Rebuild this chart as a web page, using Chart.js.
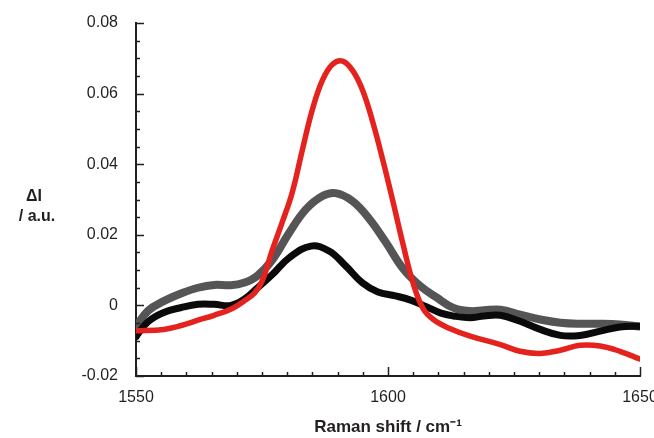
<!DOCTYPE html>
<html>
<head>
<meta charset="utf-8">
<script src="https://cdn.jsdelivr.net/npm/chart.js@4.4.1/dist/chart.umd.min.js"></script>
<style>
html,body{margin:0;padding:0;background:#fff;}
#wrap{width:654px;height:438px;position:relative;}
</style>
</head>
<body>
<div id="wrap"><canvas id="c" width="654" height="438"></canvas></div>
<script>
// Raman shift (cm-1) sample positions and ΔI values for each trace
const redShift = [1550,1555.5,1559,1562.3,1565.5,1568.8,1571.4,1573.5,1575,1577,1579,1581,1583,1585,1587,1589,1591,1593,1595,1597,1599,1601,1603,1605,1607,1609,1612,1616.3,1622.3,1626.2,1630.2,1634.2,1638.1,1642.1,1646,1650];
const redValues = [-0.0072,-0.0068,-0.0057,-0.0042,-0.0028,-0.0011,0.0012,0.0035,0.0068,0.0155,0.0235,0.032,0.044,0.0555,0.0638,0.0683,0.0692,0.0665,0.0608,0.0518,0.041,0.0293,0.0172,0.0062,-0.001,-0.004,-0.0064,-0.0087,-0.0111,-0.013,-0.0136,-0.0127,-0.0113,-0.0115,-0.013,-0.0152];

const grayShift = [1550,1552.4,1555.5,1559,1562.3,1565.5,1568.8,1571.4,1574,1577.1,1580.4,1583.7,1587,1589.6,1592.9,1596.3,1599.5,1603.1,1606.4,1609.7,1613,1616.3,1619,1622.3,1626.2,1630.2,1634.2,1638.1,1642.1,1646,1650];
const grayValues = [-0.006,-0.0015,0.0012,0.0034,0.005,0.0058,0.0057,0.0064,0.0083,0.013,0.0206,0.0272,0.031,0.0318,0.0296,0.0245,0.018,0.0102,0.0055,0.0022,-0.0007,-0.0016,-0.0014,-0.0012,-0.0026,-0.004,-0.0049,-0.0052,-0.0052,-0.0054,-0.006];

const blackShift = [1550,1552.4,1555.5,1559,1562.3,1565.5,1568.8,1571.4,1574,1577.1,1580.4,1584.7,1588.3,1591.6,1594.9,1598,1601.5,1604.5,1607.5,1610.5,1613,1616.3,1619,1622.3,1626.2,1630.2,1634.2,1638.1,1642.1,1646,1650];
const blackValues = [-0.0088,-0.0046,-0.002,-0.0006,0.0003,0.0003,0,0.0017,0.0048,0.0088,0.0135,0.0168,0.0154,0.0112,0.0064,0.0038,0.0027,0.0015,-0.0003,-0.0022,-0.003,-0.0035,-0.003,-0.0028,-0.0045,-0.0068,-0.0085,-0.0085,-0.0073,-0.0061,-0.0059];

const yTickLabels = {"-0.02":"-0.02","0":"0","0.02":"0.02","0.04":"0.04","0.06":"0.06","0.08":"0.08"};
const xTickLabels = {"1550":"1550","1600":"1600","1650":"1650"};

const pts = (xs, ys) => xs.map((x, i) => ({x: x, y: ys[i]}));

const tickPlugin = {
  id: 'innerTicks',
  afterDraw(chart) {
    const ctx = chart.ctx;
    const xs = chart.scales.x, ys = chart.scales.y;
    const left = chart.chartArea.left, bottom = chart.chartArea.bottom;
    ctx.save();
    ctx.strokeStyle = '#231f20';
    ctx.lineWidth = 1.5;
    for (let i = 0; i <= 20; i++) {
      const v = -0.02 + i * 0.005;
      const p = Math.round(ys.getPixelForValue(v)) + 0.5;
      const len = (i % 4 === 0) ? 8 : 4;
      ctx.beginPath(); ctx.moveTo(left, p); ctx.lineTo(left + len, p); ctx.stroke();
    }
    for (let i = 0; i <= 20; i++) {
      const v = 1550 + i * 5;
      const p = Math.round(xs.getPixelForValue(v)) + 0.5;
      const len = (i % 10 === 0) ? 9 : 4;
      ctx.beginPath(); ctx.moveTo(p, bottom); ctx.lineTo(p, bottom - len); ctx.stroke();
    }
    ctx.fillStyle = '#231f20';
    ctx.font = 'bold 16px "Liberation Sans", Arial, sans-serif';
    ctx.textAlign = 'center';
    ctx.textBaseline = 'middle';
    ctx.fillText('ΔI', 34, 197);
    ctx.fillText('/ a.u.', 37, 217);
    ctx.restore();
  }
};

new Chart(document.getElementById('c'), {
  type: 'line',
  data: {
    datasets: [
      {label: 'gray', data: pts(grayShift, grayValues), borderColor: '#555557', borderWidth: 8, pointRadius: 0, tension: 0.4, borderCapStyle: 'round', borderJoinStyle: 'round', order: 3},
      {label: 'black', data: pts(blackShift, blackValues), borderColor: '#0a0a0a', backgroundColor: '#0a0a0a', borderWidth: 7, pointRadius: c => c.dataIndex === 0 ? 3.5 : 0, pointBorderWidth: 0, tension: 0.4, borderCapStyle: 'round', borderJoinStyle: 'round', order: 2},
      {label: 'red', data: pts(redShift, redValues), borderColor: '#e5231e', borderWidth: 5.5, pointRadius: 0, tension: 0.4, borderCapStyle: 'round', borderJoinStyle: 'round', order: 1}
    ]
  },
  options: {
    responsive: false,
    animation: false,
    layout: {padding: {top: 23, right: 14, left: 0, bottom: 0}},
    plugins: {legend: {display: false}, tooltip: {enabled: false}},
    scales: {
      x: {
        type: 'linear', min: 1550, max: 1650,
        afterFit(s) { s.height = 62; s.paddingRight = 0; s.paddingLeft = 0; },
        grid: {display: false, drawTicks: false},
        border: {display: true, color: '#231f20', width: 2},
        ticks: {stepSize: 50, padding: 12, color: '#231f20', maxRotation: 0,
          font: {family: '"Liberation Sans", Arial, sans-serif', size: 16},
          callback: v => xTickLabels[String(v)] ?? ''},
        title: {display: true, text: 'Raman shift / cm⁻¹', color: '#231f20',
          font: {family: '"Liberation Sans", Arial, sans-serif', size: 17, weight: 'bold'}, padding: {top: 13, bottom: 0}}
      },
      y: {
        min: -0.02, max: 0.08,
        afterFit(s) { s.width = 136; s.paddingTop = 0; s.paddingBottom = 0; },
        grid: {display: false, drawTicks: false},
        border: {display: true, color: '#231f20', width: 2},
        ticks: {stepSize: 0.02, padding: 18, color: '#231f20',
          font: {family: '"Liberation Sans", Arial, sans-serif', size: 16},
          callback: v => yTickLabels[String(Math.round(v * 100) / 100)] ?? ''}
      }
    }
  },
  plugins: [tickPlugin]
});
</script>
</body>
</html>
